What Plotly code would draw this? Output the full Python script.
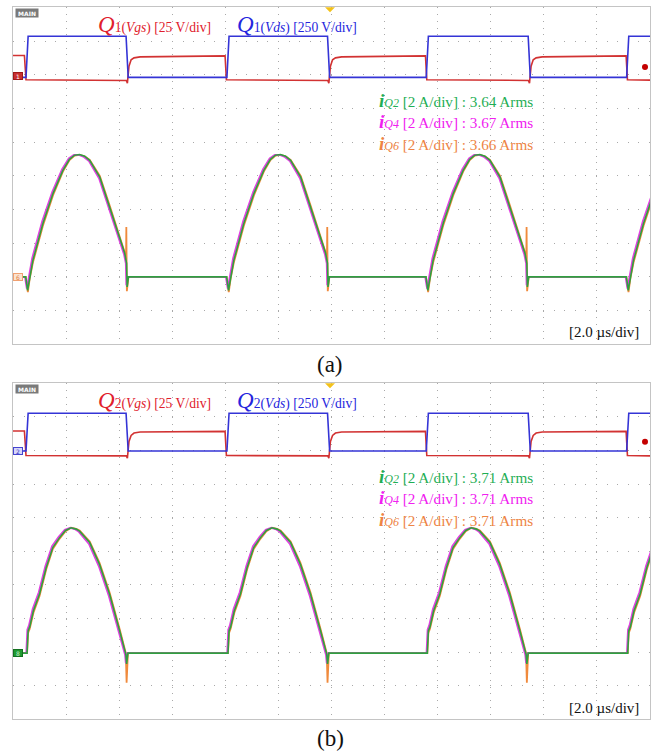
import plotly.graph_objects as go

W, H = 660, 754

# ---------------- data ----------------
# time in µs (2.0 µs/div, 12 divisions), voltages in V, currents in A

# panel (a): Q1 gate-source and drain-source voltage
t_vgs_a = [0.00, 0.43, 0.49, 4.27, 4.31, 4.37, 4.45, 4.56, 4.79, 7.99, 8.04,
           11.86, 11.90, 11.96, 12.04, 12.15, 12.38, 15.54, 15.59,
           19.42, 19.46, 19.52, 19.60, 19.71, 19.94, 23.10, 23.15, 24.00]
vgs_a = [15.5, 15.5, -2.5, -3.0, -5.0, 7.5, 12.25, 13.75, 14.5, 15.25, -2.5,
         -3.0, -5.0, 7.5, 12.25, 13.75, 14.5, 15.25, -2.5,
         -3.0, -5.0, 7.5, 12.25, 13.75, 14.5, 15.25, -2.5, -2.75]
t_vds_a = [0.00, 0.49, 0.57, 4.26, 4.34, 8.06, 8.14, 11.85, 11.93,
           15.57, 15.65, 19.41, 19.49, 23.12, 23.20, 24.00]
vds_a = [0, 0, 305, 305, 0, 0, 305, 305, 0, 0, 305, 305, 0, 0, 305, 305]

# panel (b): Q2 gate-source and drain-source voltage
t_vgs_b = [0.00, 0.43, 0.49, 4.27, 4.31, 4.37, 4.45, 4.56, 4.79, 7.99, 8.04,
           11.86, 11.90, 11.96, 12.04, 12.15, 12.38, 15.54, 15.59,
           19.42, 19.46, 19.52, 19.60, 19.71, 19.94, 23.10, 23.15, 24.00]
vgs_b = [15.75, 15.75, -2.5, -2.75, -4.5, 8.0, 12.5, 14.25, 15.0, 15.5, -2.5,
         -2.75, -4.5, 8.0, 12.5, 14.25, 15.0, 15.5, -2.5,
         -2.75, -4.5, 8.0, 12.5, 14.25, 15.0, 15.5, -2.5, -2.75]
t_vds_b = [0.00, 0.49, 0.57, 4.26, 4.34, 8.06, 8.14, 11.85, 11.93,
           15.57, 15.65, 19.41, 19.49, 23.12, 23.20, 24.00]
vds_b = [0, 0, 281, 281, 0, 0, 281, 281, 0, 0, 281, 281, 0, 0, 281, 281]

# switch current pulses: pulse start times and one read pulse shape
pulse_start_a = [0.53, 8.10, 15.61, 23.16]
pulse_start_b = [0.53, 8.10, 15.61, 23.16]

off_a = [-0.05, 0.02, 0.09, 0.22, 0.60, 0.98, 1.35, 1.60, 1.79, 1.98, 2.17,
         2.36, 2.74, 3.11, 3.49, 3.68, 3.75, 3.77, 3.82]
iq2_a = [0, -0.8, -0.1, 0.98, 3.18, 4.96, 6.32, 6.98, 7.22, 7.26, 7.16,
         6.92, 5.92, 4.14, 2.36, 1.40, 0.80, -0.60, 0]
iq4_a = [0, -0.7, 0.0, 1.10, 3.30, 5.05, 6.40, 7.04, 7.24, 7.24, 7.12,
         6.88, 5.85, 4.05, 2.28, 1.35, 0.80, -0.50, 0]
off_q6_a = [-0.05, 0.03, 0.10, 0.22, 0.60, 0.98, 1.35, 1.60, 1.79, 1.98, 2.17,
            2.36, 2.74, 3.11, 3.49, 3.68, 3.73, 3.74, 3.76, 3.82]
iq6_a = [0, -0.9, -0.1, 0.85, 3.05, 4.85, 6.25, 6.94, 7.20, 7.24, 7.16,
         6.95, 6.00, 4.25, 2.45, 1.45, 1.20, 2.96, -0.85, 0]

off_b = [-0.03, 0.00, 0.04, 0.10, 0.24, 0.47, 0.72, 0.97, 1.22, 1.45, 1.66,
         1.85, 1.98, 2.36, 2.73, 3.11, 3.49, 3.72, 3.75, 3.80]
iq2_b = [0, 0, 1.32, 1.56, 2.52, 3.52, 5.08, 6.28, 6.86, 7.30, 7.46,
         7.38, 7.26, 6.58, 5.28, 3.50, 1.32, -0.06, -0.64, 0]
iq4_b = [0, 0, 1.40, 1.65, 2.62, 3.62, 5.18, 6.36, 6.92, 7.34, 7.46,
         7.36, 7.22, 6.50, 5.18, 3.40, 1.22, -0.10, -0.60, 0]
iq6_b = [0, 0, 1.20, 1.45, 2.40, 3.40, 4.98, 6.20, 6.80, 7.26, 7.46,
         7.40, 7.30, 6.65, 5.38, 3.60, 1.42, 0.00, -1.76, 0]

rms_a = ["3.64", "3.67", "3.66"]
rms_b = ["3.71", "3.71", "3.71"]

# channel settings: (volts-or-amps per div, ground offset in div)
CH_A = {"vgs": (25, 2.95), "vds": (250, 2.92), "i": (2, -3.0)}
CH_B = {"vgs": (25, 2.95), "vds": (250, 2.985), "i": (2, -3.03)}

RED, BLUE = "#d23232", "#3434d6"
GREEN, MAGENTA, ORANGE = "#2fa040", "#e040e0", "#f08a3c"
TXT_RED, TXT_BLUE = "#e0202c", "#2525dd"
TXT_GREEN, TXT_MAG, TXT_OR = "#1fae55", "#f020f0", "#ee8444"


def train(starts, offs, vals, shift=0.0):
    t, v = [0.0], [0.0]
    for s in starts:
        for o, val in zip(offs, vals):
            t.append(s + o + shift)
            v.append(val)
    return t, v


def to_div(vals, ch):
    scale, off = ch
    return [off + x / scale for x in vals]


fig = go.Figure()


def add_panel(row, ch, t_vgs, vgs, t_vds, vds, starts, offs, i2, i4, offs6, i6):
    xa, ya = ("x", "y") if row == 1 else ("x2", "y2")
    t6, v6 = train(starts, offs6, i6)
    t4, v4 = train(starts, offs, i4, shift=-0.03)
    t2, v2 = train(starts, offs, i2)
    for t, v, c, w in [(t6, v6, ORANGE, 1.8), (t4, v4, MAGENTA, 1.8), (t2, v2, GREEN, 1.6)]:
        fig.add_trace(go.Scatter(x=t, y=to_div(v, ch["i"]), mode="lines",
                                 line=dict(color=c, width=w), xaxis=xa, yaxis=ya,
                                 showlegend=False, hoverinfo="skip"))
    fig.add_trace(go.Scatter(x=t_vgs, y=to_div(vgs, ch["vgs"]), mode="lines",
                             line=dict(color=RED, width=1.6),
                             xaxis=xa, yaxis=ya, showlegend=False, hoverinfo="skip"))
    fig.add_trace(go.Scatter(x=t_vds, y=to_div(vds, ch["vds"]), mode="lines",
                             line=dict(color=BLUE, width=1.6), xaxis=xa, yaxis=ya,
                             showlegend=False, hoverinfo="skip"))


add_panel(1, CH_A, t_vgs_a, vgs_a, t_vds_a, vds_a, pulse_start_a, off_a, iq2_a, iq4_a, off_q6_a, iq6_a)
add_panel(2, CH_B, t_vgs_b, vgs_b, t_vds_b, vds_b, pulse_start_b, off_b, iq2_b, iq4_b, off_b, iq6_b)

X0, X1 = 13, 650
PA = (7.3, 344.3)
PB = (383.3, 719.3)

axis_x = dict(range=[0, 24], dtick=2, tick0=0, showgrid=True, gridcolor="#a9a9a9",
              gridwidth=1, griddash="1px,5.74px", showticklabels=False, ticks="",
              zeroline=False, showline=True, mirror=True, linecolor="#c4c4c4",
              linewidth=1, domain=[X0 / W, X1 / W])
axis_y = dict(range=[-5, 5], dtick=1, tick0=0, showgrid=True, gridcolor="#a9a9a9",
              gridwidth=1, griddash="1px,9.6px", showticklabels=False, ticks="",
              zeroline=False, showline=True, mirror=True, linecolor="#c4c4c4",
              linewidth=1)

fig.update_layout(
    width=W, height=H, margin=dict(l=0, r=0, t=0, b=0), autosize=False,
    paper_bgcolor="white", plot_bgcolor="white", showlegend=False,
    xaxis=dict(axis_x, anchor="y"),
    yaxis=dict(axis_y, anchor="x", domain=[1 - PA[1] / H, 1 - PA[0] / H]),
    xaxis2=dict(axis_x, anchor="y2"),
    yaxis2=dict(axis_y, anchor="x2", domain=[1 - PB[1] / H, 1 - PB[0] / H]),
)

ann = []
SERIF = "Liberation Serif"


def label(x, y, text, size, color, xanchor="left", yanchor="middle"):
    ann.append(dict(x=x / W, y=1 - y / H, xref="paper", yref="paper", text=text,
                    showarrow=False, xanchor=xanchor, yanchor=yanchor, align="left",
                    font=dict(family=SERIF, size=size, color=color)))


def q_label(n, kind, scale):
    return ('<span style="font-size:23px"><i>Q</i></span>' + n +
            '(<i>' + kind + '</i>) [' + scale + ' V/div]')


def i_line(q, rms, color):
    return ('<span style="color:' + color + '">'
            '<span style="font-size:19px"><b><i>i</i></b></span>'
            '<span style="font-size:12px"><i>' + q + '</i></span>'
            '<span style="font-size:15.2px"> [2 A/div] : ' + rms + ' Arms</span></span>')


for (dy, n, rms) in [(0, "1", rms_a), (376, "2", rms_b)]:
    label(96, 24 + dy, q_label(n, "Vgs", "25"), 13.6, TXT_RED)
    label(235, 24 + dy, q_label(n, "Vds", "250"), 13.6, TXT_BLUE)
    block = "<br>".join([i_line("Q2", rms[0], TXT_GREEN),
                         i_line("Q4", rms[1], TXT_MAG),
                         i_line("Q6", rms[2], TXT_OR)])
    label(377, 122 + dy, block, 16.5, TXT_GREEN)
    label(641, 332 + dy, "[2.0 µs/div]", 15, "#111111", xanchor="right")
    # MAIN tag
    ann.append(dict(x=15 / W, y=1 - (13 + dy) / H, xref="paper", yref="paper",
                    text="<b>MAIN</b>", showarrow=False, xanchor="left", yanchor="middle",
                    font=dict(family="DejaVu Sans", size=6, color="white"),
                    bgcolor="#7a7a7a", borderpad=1, width=20, height=6))

label(330, 365, "(a)", 23, "#111111", xanchor="center")
label(330, 738, "(b)", 23, "#111111", xanchor="center")


def ch_marker(yref, level, text, bg, border, fg):
    ann.append(dict(x=X0 / W, y=level, xref="paper", yref=yref, text=text,
                    showarrow=False, xanchor="left", yanchor="middle",
                    font=dict(family="DejaVu Sans", size=6, color=fg),
                    bgcolor=bg, bordercolor=border, borderwidth=1, borderpad=0,
                    width=8, height=6))


ch_marker("y", CH_A["vgs"][1], "1", "#c83030", "#a01818", "white")
ch_marker("y", CH_A["i"][1], "6", "#fbe2cf", "#f0a070", "#e08040")
ch_marker("y2", CH_B["vds"][1], "2", "#d6d6fa", "#4444d0", "#3030c0")
ch_marker("y2", CH_B["i"][1], "8", "#1f9a30", "#137020", "#c8f0c8")

fig.update_layout(annotations=ann)

shapes = []
for top in (PA[0], PB[0]):
    shapes.append(dict(type="path", xref="paper", yref="paper",
                       path="M {a},{b} L {c},{b} L {d},{e} Z".format(
                           a=325 / W, b=1 - top / H, c=335 / W, d=330 / W, e=1 - (top + 5) / H),
                       fillcolor="#f4c21a", line=dict(width=0)))
for yc in (67, 441.7):
    shapes.append(dict(type="circle", xref="paper", yref="paper",
                       x0=642 / W, x1=648 / W, y0=1 - (yc + 3) / H, y1=1 - (yc - 3) / H,
                       fillcolor="#c40000", line=dict(width=0)))
fig.update_layout(shapes=shapes)

fig.write_html("out.html")
